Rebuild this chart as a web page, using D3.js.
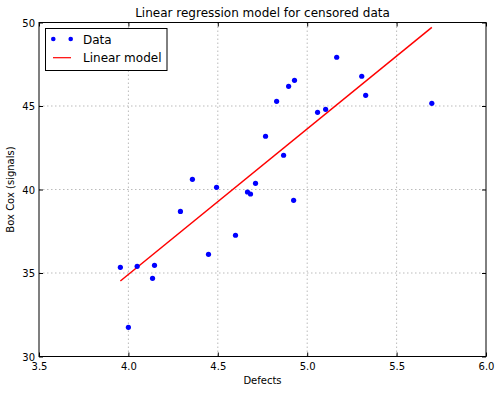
<!DOCTYPE html>
<html>
<head>
<meta charset="utf-8">
<script src="https://cdn.jsdelivr.net/npm/d3@7"></script>
<style>
  body { margin: 0; background: #fff; }
  svg { font-family: "DejaVu Sans", sans-serif; }
</style>
</head>
<body>
<svg id="chart" width="500" height="393"></svg>
<script>
// data
const defects = [3.955, 4.000, 4.049, 4.135, 4.146, 4.291, 4.358, 4.448, 4.493, 4.599,
  4.666, 4.683, 4.711, 4.767, 4.829, 4.868, 4.896, 4.924, 4.929, 5.058,
  5.103, 5.165, 5.305, 5.327, 5.697];
const boxCox = [35.34, 31.75, 35.40, 34.68, 35.46, 38.69, 40.61, 36.12, 40.13, 37.26,
  39.85, 39.73, 40.37, 43.19, 45.28, 42.05, 46.18, 39.35, 46.54, 44.62,
  44.80, 47.92, 46.78, 45.64, 45.16];
// fitted model, ends of the line
const modelX = [3.955, 5.697];
const modelY = [34.52, 49.71];

const xTicks = [3.5, 4.0, 4.5, 5.0, 5.5, 6.0];
const yTicks = [30, 35, 40, 45, 50];

const pL = 39, pR = 486, pT = 22.5, pB = 356.5;
const svg = d3.select('#chart');

const x = d3.scaleLinear().domain([3.5, 6.0]).range([pL, pR]);
const y = d3.scaleLinear().domain([30, 50]).range([pB, pT]);

// grid
const grid = svg.append('g');
grid.selectAll('.gx').data(xTicks.slice(1, -1)).join('line')
  .attr('x1', d => x(d)).attr('x2', d => x(d))
  .attr('y1', pT).attr('y2', pB)
  .attr('stroke', '#aaa').attr('stroke-width', 0.8).attr('stroke-dasharray', '1.5,2.5');
grid.selectAll('.gy').data(yTicks.slice(1, -1)).join('line')
  .attr('y1', d => y(d)).attr('y2', d => y(d))
  .attr('x1', pL).attr('x2', pR)
  .attr('stroke', '#aaa').attr('stroke-width', 0.8).attr('stroke-dasharray', '1.5,2.5');

// inward ticks on all four sides
const gx = svg.append('g').attr('transform', `translate(0,${pB})`)
  .call(d3.axisBottom(x).tickValues(xTicks).tickFormat(d3.format('.1f')).tickSizeInner(-4).tickSizeOuter(0));
const gy = svg.append('g').attr('transform', `translate(${pL},0)`)
  .call(d3.axisLeft(y).tickValues(yTicks).tickFormat(d3.format('d')).tickSizeInner(-4).tickSizeOuter(0));
svg.append('g').attr('transform', `translate(0,${pT})`)
  .call(d3.axisTop(x).tickValues(xTicks).tickFormat('').tickSizeInner(-4).tickSizeOuter(0));
svg.append('g').attr('transform', `translate(${pR},0)`)
  .call(d3.axisRight(y).tickValues(yTicks).tickFormat('').tickSizeInner(-4).tickSizeOuter(0));
svg.selectAll('.domain').remove();
svg.selectAll('.tick line').attr('stroke', '#000');
gx.selectAll('text').attr('dy', null).attr('y', 13).attr('font-size', 10)
  .attr('font-family', 'DejaVu Sans').attr('fill', '#000');
gy.selectAll('text').attr('dy', '0.35em').attr('x', -4).attr('font-size', 10)
  .attr('font-family', 'DejaVu Sans').attr('fill', '#000');

// model line
const line = d3.line().x(d => x(d[0])).y(d => y(d[1]));
svg.append('path')
  .datum(d3.zip(modelX, modelY))
  .attr('d', line)
  .attr('fill', 'none').attr('stroke', '#ff0000').attr('stroke-width', 1.5);

// data points
svg.append('g').selectAll('circle')
  .data(d3.zip(defects, boxCox))
  .join('circle')
  .attr('cx', d => x(d[0])).attr('cy', d => y(d[1]))
  .attr('r', 2.6).attr('fill', '#0000ff');

// frame
svg.append('rect')
  .attr('x', pL).attr('y', pT).attr('width', pR - pL).attr('height', pB - pT)
  .attr('fill', 'none').attr('stroke', '#000').attr('stroke-width', 1);

// title and labels
svg.append('text').attr('x', (pL + pR) / 2).attr('y', 17)
  .attr('text-anchor', 'middle').attr('font-size', 12).text('Linear regression model for censored data');
svg.append('text').attr('x', (pL + pR) / 2).attr('y', 384)
  .attr('text-anchor', 'middle').attr('font-size', 10).text('Defects');
svg.append('text').attr('transform', `translate(14,${(pT + pB) / 2}) rotate(-90)`)
  .attr('text-anchor', 'middle').attr('font-size', 10).text('Box Cox (signals)');

// legend
const lg = svg.append('g');
lg.append('rect').attr('x', 45.5).attr('y', 28.5).attr('width', 121.5).attr('height', 42)
  .attr('fill', '#fff').attr('stroke', '#000').attr('stroke-width', 1);
lg.selectAll('circle').data([53.3, 70.7]).join('circle')
  .attr('cx', d => d).attr('cy', 39).attr('r', 2.3).attr('fill', '#0000ff');
lg.append('line').attr('x1', 53).attr('x2', 71).attr('y1', 57.7).attr('y2', 57.7)
  .attr('stroke', '#ff0000').attr('stroke-width', 1.2);
lg.append('text').attr('x', 83).attr('y', 43.5).attr('font-size', 12).text('Data');
lg.append('text').attr('x', 83).attr('y', 62).attr('font-size', 12).text('Linear model');
</script>
</body>
</html>
